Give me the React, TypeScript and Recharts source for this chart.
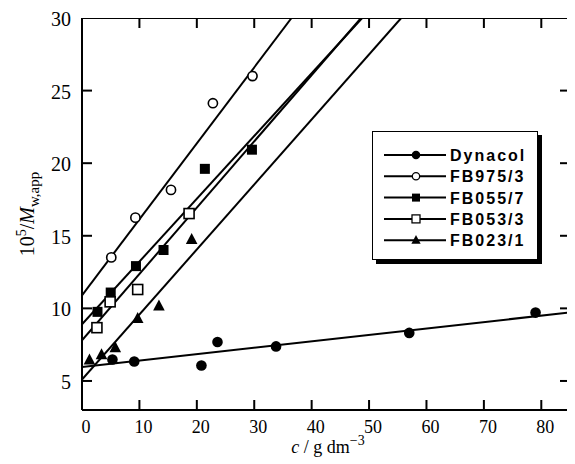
import React from 'react';
import { ScatterChart, Scatter, XAxis, YAxis, Legend, Label } from 'recharts';

// ---- measured data points ----
const dynacolC = [5.3, 9.1, 20.8, 23.6, 33.8, 57.0, 79.0];
const dynacolY = [6.48, 6.34, 6.07, 7.68, 7.38, 8.31, 9.71];
const fb975C = [5.1, 9.3, 15.5, 22.8, 29.7];
const fb975Y = [13.51, 16.25, 18.16, 24.13, 26.0];
const fb055C = [2.7, 5.0, 9.4, 14.2, 21.4, 29.6];
const fb055Y = [9.76, 11.09, 12.91, 14.02, 19.61, 20.93];
const fb053C = [2.6, 4.9, 9.7, 18.65];
const fb053Y = [8.67, 10.45, 11.3, 16.53];
const fb023C = [1.3, 3.4, 5.8, 9.7, 13.4, 19.1];
const fb023Y = [6.45, 6.81, 7.29, 9.3, 10.17, 14.75];

// ---- fitted straight lines (end points) ----
const fitDynacolC = [0, 85];
const fitDynacolY = [5.96, 9.72];
const fitFb975C = [0, 36.5];
const fitFb975Y = [10.9, 30];
const fitFb055C = [0, 48.8];
const fitFb055Y = [8.9, 30];
const fitFb053C = [0, 48.6];
const fitFb053Y = [7.8, 30];
const fitFb023C = [0, 55.6];
const fitFb023Y = [5.1, 30];

// ---- axes ----
const xTicks = [0, 10, 20, 30, 40, 50, 60, 70, 80];
const yTicks = [5, 10, 15, 20, 25, 30];
const xDomain = [0, 85];
const yDomain = [3, 30];

const seriesNames = ['Dynacol', 'FB975/3', 'FB055/7', 'FB053/3', 'FB023/1'];

const zip = (c: number[], y: number[]) => c.map((v, i) => ({ c: v, y: y[i] }));

const FilledCircle = (p: any) => <circle cx={p.cx} cy={p.cy} r={5.3} fill="#000" />;
const OpenCircle = (p: any) => (
  <circle cx={p.cx} cy={p.cy} r={4.6} fill="#fff" stroke="#000" strokeWidth={1.6} />
);
const FilledSquare = (p: any) => (
  <rect x={p.cx - 5} y={p.cy - 5} width={10} height={10} fill="#000" />
);
const OpenSquare = (p: any) => (
  <rect x={p.cx - 5} y={p.cy - 5} width={10} height={10} fill="#fff" stroke="#000" strokeWidth={1.6} />
);
const Triangle = (p: any) => (
  <polygon
    points={`${p.cx},${p.cy - 6.5} ${p.cx + 5.8},${p.cy + 4.5} ${p.cx - 5.8},${p.cy + 4.5}`}
    fill="#000"
  />
);
const NoShape = () => <g />;

const shapes = [FilledCircle, OpenCircle, FilledSquare, OpenSquare, Triangle];

const SERIF = "'Liberation Serif', 'Times New Roman', serif";
const TICK_LEN = 10;

// inward tick marks, drawn at positions given by the library's scales
const UpMark = (p: any) => (
  <line x1={p.cx} y1={p.cy} x2={p.cx} y2={p.cy - TICK_LEN} stroke="#000" strokeWidth={2} />
);
const DownMark = (p: any) => (
  <line x1={p.cx} y1={p.cy} x2={p.cx} y2={p.cy + TICK_LEN} stroke="#000" strokeWidth={2} />
);
const RightMark = (p: any) => (
  <line x1={p.cx} y1={p.cy} x2={p.cx + TICK_LEN} y2={p.cy} stroke="#000" strokeWidth={2} />
);
const LeftMark = (p: any) => (
  <line x1={p.cx} y1={p.cy} x2={p.cx - TICK_LEN} y2={p.cy} stroke="#000" strokeWidth={2} />
);

const BottomTick = (p: any) => (
  <text x={p.x + 4} y={p.y + 23} textAnchor="middle" fontFamily={SERIF} fontSize={18} fill="#000">
    {p.payload.value}
  </text>
);
const LeftTick = (p: any) => (
  <text x={p.x - 11} y={p.y + 8} textAnchor="end" fontFamily={SERIF} fontSize={20} fill="#000">
    {p.payload.value}
  </text>
);

const LegendBox = () => {
  const rows = seriesNames.map((name, i) => {
    const cy = 23 + i * 21.3;
    const Shape = shapes[i];
    return (
      <g key={name}>
        <line x1={11} x2={73} y1={cy} y2={cy} stroke="#000" strokeWidth={2} />
        <g transform={`translate(43,${cy}) scale(0.8) translate(-43,${-cy})`}>
          <Shape cx={43} cy={cy} />
        </g>
        <text
          x={77}
          y={cy + 6}
          fontFamily="'Liberation Sans', Arial, sans-serif"
          fontWeight="bold"
          fontSize={16}
          letterSpacing={2}
          fill="#000"
        >
          {name}
        </text>
      </g>
    );
  });
  return (
    <div
      style={{
        width: 166,
        height: 129,
        border: '1.5px solid #000',
        boxShadow: '4px 4px 0 #000',
        background: '#fff',
        boxSizing: 'border-box',
      }}
    >
      <svg width={164} height={126} style={{ display: 'block' }}>
        {rows}
      </svg>
    </div>
  );
};

const axisStroke = { stroke: '#000', strokeWidth: 2 };

export default function App() {
  const pointSeries = [
    zip(dynacolC, dynacolY),
    zip(fb975C, fb975Y),
    zip(fb055C, fb055Y),
    zip(fb053C, fb053Y),
    zip(fb023C, fb023Y),
  ];
  const fitSeries = [
    zip(fitDynacolC, fitDynacolY),
    zip(fitFb975C, fitFb975Y),
    zip(fitFb055C, fitFb055Y),
    zip(fitFb053C, fitFb053Y),
    zip(fitFb023C, fitFb023Y),
  ];

  // plot frame corners (from the axis domains) and tick-mark anchors (from the tick lists)
  const frame = zip(
    [xDomain[0], xDomain[1], xDomain[1], xDomain[0], xDomain[0]],
    [yDomain[0], yDomain[0], yDomain[1], yDomain[1], yDomain[0]]
  );
  const bottomMarks = xTicks.map((v) => ({ c: v, y: yDomain[0] }));
  const topMarks = xTicks.map((v) => ({ c: v, y: yDomain[1] }));
  const leftMarks = yTicks.map((v) => ({ c: xDomain[0], y: v }));
  const rightMarks = yTicks.map((v) => ({ c: xDomain[1], y: v }));

  return (
    <div style={{ width: 567, height: 450 }}>
      <ScatterChart
        width={567}
        height={450}
        margin={{ top: 10, right: 5, bottom: 8, left: 34 }}
      >
        <XAxis
          type="number"
          dataKey="c"
          domain={xDomain}
          ticks={xTicks}
          interval={0}
          allowDataOverflow
          height={40}
          tickSize={0}
          tickMargin={0}
          axisLine={axisStroke}
          tickLine={false}
          tick={<BottomTick />}
        >
          <Label
            content={(props: any) => {
              const vb = props.viewBox;
              const cx = vb.x + vb.width / 2 + 2;
              const by = vb.y + 43;
              return (
                <text x={cx} y={by} textAnchor="middle" fontFamily={SERIF} fontSize={18} fill="#000">
                  <tspan fontStyle="italic">c</tspan>
                  <tspan> / g dm</tspan>
                  <tspan dy={-8} fontSize={14}>−3</tspan>
                </text>
              );
            }}
          />
        </XAxis>
        <YAxis
          type="number"
          dataKey="y"
          domain={yDomain}
          ticks={yTicks}
          interval={0}
          allowDataOverflow
          width={40}
          tickSize={0}
          tickMargin={0}
          axisLine={axisStroke}
          tickLine={false}
          tick={<LeftTick />}
        >
          <Label
            content={(props: any) => {
              const vb = props.viewBox;
              const X = 26;
              const Y = vb.y + vb.height / 2;
              return (
                <text
                  x={X}
                  y={Y}
                  transform={`rotate(-90, ${X}, ${Y})`}
                  textAnchor="middle"
                  fontFamily={SERIF}
                  fontSize={20}
                  fill="#000"
                >
                  <tspan>10</tspan>
                  <tspan dy={-8} fontSize={14}>5</tspan>
                  <tspan dy={8}>/</tspan>
                  <tspan fontStyle="italic">M</tspan>
                  <tspan dy={5} fontSize={15}>w,app</tspan>
                </text>
              );
            }}
          />
        </YAxis>

        <Scatter
          name="frame"
          data={frame}
          line={{ stroke: '#000', strokeWidth: 2 }}
          shape={<NoShape />}
          legendType="none"
          isAnimationActive={false}
        />
        <Scatter name="ticks-b" data={bottomMarks} shape={<UpMark />} legendType="none" isAnimationActive={false} />
        <Scatter name="ticks-t" data={topMarks} shape={<DownMark />} legendType="none" isAnimationActive={false} />
        <Scatter name="ticks-l" data={leftMarks} shape={<RightMark />} legendType="none" isAnimationActive={false} />
        <Scatter name="ticks-r" data={rightMarks} shape={<LeftMark />} legendType="none" isAnimationActive={false} />

        {fitSeries.map((d, i) => (
          <Scatter
            key={'fit' + i}
            name={'fit ' + seriesNames[i]}
            data={d}
            line={{ stroke: '#000', strokeWidth: 2 }}
            shape={<NoShape />}
            legendType="none"
            isAnimationActive={false}
          />
        ))}
        {pointSeries.map((d, i) => {
          const Shape = shapes[i];
          return (
            <Scatter
              key={'pts' + i}
              name={seriesNames[i]}
              data={d}
              shape={<Shape />}
              isAnimationActive={false}
            />
          );
        })}
        <Legend
          layout="vertical"
          align="center"
          verticalAlign="middle"
          content={<LegendBox />}
          wrapperStyle={{ left: 364, top: 123, width: 172, height: 135 }}
        />
      </ScatterChart>
    </div>
  );
}
